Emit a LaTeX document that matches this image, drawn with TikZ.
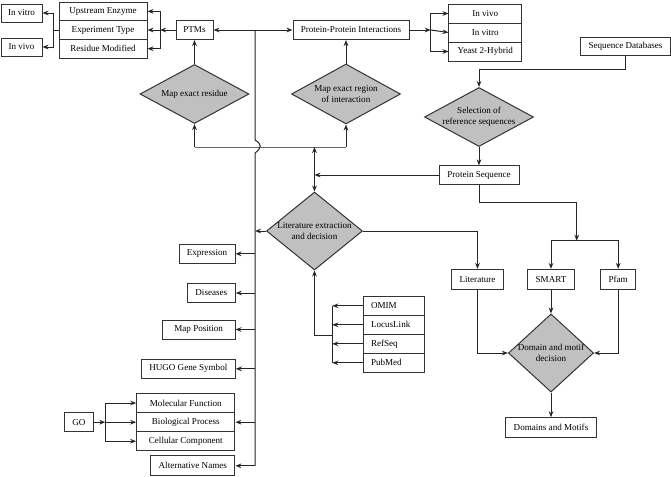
\documentclass[tikz,border=0pt]{standalone}
\usepackage{fontspec}
\setmainfont{Liberation Serif}
\usetikzlibrary{shapes.geometric,arrows.meta}

\tikzset{every picture/.style={line width=0.75pt}}
\tikzset{
  box/.style={draw=black!80, fill=white, inner sep=0pt, minimum height=14.25pt, font=\fontsize{6.8}{8}\selectfont},
  dbbox/.style={box, text width=34pt, inner xsep=5.75pt, align=left},
  decision/.style={diamond, draw=black!80, fill={rgb,255:red,192; green,192; blue,192}, inner sep=0pt, align=center, font=\fontsize{6.8}{8}\selectfont},
  arr/.style={draw=black!85, -{Stealth[length=4.5pt,width=3.5pt]}},
  arrs/.style={draw=black!85, {Stealth[length=4.5pt,width=3.5pt]}-{Stealth[length=4.5pt,width=3.5pt]}},
  wire/.style={draw=black!85}
}

\begin{document}
\begin{tikzpicture}[x=0.75pt,y=0.75pt,yscale=-1,xscale=1]
\useasboundingbox (0,0) rectangle (671,476);

%Shapes: PTM branch
\node[box, minimum width=30.75pt, minimum height=13.5pt] (invitroA) at (21.5,13) {In vitro};
\node[box, minimum width=30.75pt, minimum height=13.5pt] (invivoA) at (21.5,47) {In vivo};
\node[box, minimum width=66pt, minimum height=14pt] (upstream) at (103,11.33) {Upstream Enzyme};
\node[box, minimum width=66pt, minimum height=14pt] (exptype) at (103,30) {Experiment Type};
\node[box, minimum width=66pt, minimum height=14pt] (residue) at (103,48.67) {Residue Modified};
\node[box, minimum width=27.75pt] (ptms) at (194.5,30) {PTMs};
\node[decision, minimum width=81.75pt, minimum height=44.25pt, shape aspect=1.85] (mapres) at (194.5,94) {Map exact residue};

%Shapes: interaction branch
\node[box, minimum width=87pt] (ppi) at (351,30) {Protein-Protein Interactions};
\node[box, minimum width=54.5pt] (invivoB) at (485.3,13.5) {In vivo};
\node[box, minimum width=54.5pt] (invitroB) at (485.3,32.5) {In vitro};
\node[box, minimum width=54.5pt] (yeast) at (485.3,51.5) {Yeast 2-Hybrid};
\node[decision, minimum width=81.75pt, minimum height=45pt, shape aspect=1.85] (mapreg) at (346,94) {Map exact region\\of interaction};

%Shapes: sequence branch
\node[box, minimum width=67.5pt, minimum height=13.5pt] (seqdb) at (625.5,46) {Sequence Databases};
\node[decision, minimum width=81.75pt, minimum height=44.25pt, shape aspect=1.85] (selection) at (479,117) {Selection of\\reference sequences};
\node[box, minimum width=60pt, minimum height=13.75pt] (protseq) at (479,175) {Protein Sequence};
\node[box, minimum width=38.7pt, minimum height=14.75pt] (literature) at (477.5,279.2) {Literature};
\node[box, minimum width=35.25pt, minimum height=14.75pt] (smart) at (551,279.2) {SMART};
\node[box, minimum width=26.25pt, minimum height=14.75pt] (pfam) at (618.2,279.2) {Pfam};
\node[decision, minimum width=63.75pt, minimum height=58.5pt, shape aspect=1.09] (domdec) at (551,353) {Domain and motif\\decision};
\node[box, minimum width=67.7pt, minimum height=14.7pt] (dommot) at (551,427.5) {Domains and Motifs};

%Shapes: literature branch
\node[decision, minimum width=72pt, minimum height=58.5pt, shape aspect=1.23] (litdec) at (314.5,231) {Literature extraction\\and decision};
\node[dbbox] (omim) at (393.7,305.8) {OMIM};
\node[dbbox] (locus) at (393.7,324.8) {LocusLink};
\node[dbbox] (refseq) at (393.7,343.8) {RefSeq};
\node[dbbox] (pubmed) at (393.7,362.8) {PubMed};
\node[box, minimum width=42pt] (expression) at (207,253.8) {Expression};
\node[box, minimum width=36pt] (diseases) at (211.3,293) {Diseases};
\node[box, minimum width=54.5pt] (mappos) at (198.7,329.5) {Map Position};
\node[box, minimum width=70.5pt] (hugo) at (188.3,368.8) {HUGO Gene Symbol};
\node[box, minimum width=73.7pt] (molfun) at (185.8,403) {Molecular Function};
\node[box, minimum width=73.7pt] (bioproc) at (185.8,422.2) {Biological Process};
\node[box, minimum width=73.7pt] (cellcomp) at (185.8,441.2) {Cellular Component};
\node[box, minimum width=63.2pt, minimum height=14.75pt] (altnames) at (192.8,465.8) {Alternative Names};
\node[box, minimum width=21.75pt, minimum height=14.5pt] (go) at (78.8,422.2) {GO};

%Junction points
\coordinate (lbus) at (53,30);
\coordinate (pbus) at (160,30);
\coordinate (ibus) at (430.7,30);
\coordinate (bus) at (255,465.8);
\coordinate (jl) at (194.5,147);
\coordinate (jr) at (346,147);
\coordinate (sdturn) at (625.5,69);
\coordinate (psturn) at (576.7,202.7);
\coordinate (brk) at (576.7,240.7);
\coordinate (obus) at (332.3,335.7);
\coordinate (gbus) at (105.3,422.2);

%Connectors: PTMs
\draw[wire] (exptype.west) -- (lbus);
\draw[arr] (lbus) |- (invitroA.east);
\draw[arr] (lbus) |- (invivoA.east);
\draw[arr] (ptms.west) -- (pbus);
\draw[arr] (pbus) |- (upstream.east);
\draw[arr] (pbus) -- (exptype.east);
\draw[arr] (pbus) |- (residue.east);
\draw[arr] (mapres.north) -- (ptms.south);
\draw[arrs] (ptms.east) -- (ppi.west);

%Connectors: interactions
\draw[arr] (ppi.east) -- (ibus);
\draw[arr] (ibus) |- (invivoB.west);
\draw[arr] (ibus) -- (invitroB.west);
\draw[arr] (ibus) |- (yeast.west);
\draw[arr] (mapreg.north) -- (mapreg.north |- ppi.south);

%Straight Lines: shared bar under the two upper decisions
\draw[draw=black!60] (jl) -- (jr);
\draw[arr] (jl) -- (mapres.south);
\draw[arr] (jr) -- (mapreg.south);
\draw[arrs] (litdec.north |- jl) -- (litdec.north);
\draw[arr] (protseq.west) -- (litdec.north |- protseq);

%Straight Lines: bus with a jump over the bar
\draw[wire] (bus |- ptms) -- (255,140) .. controls (262,144) and (262,148) .. (255,153) -- (bus);
\draw[arr] (litdec.west) -- (bus |- litdec);
\draw[arr] (bus |- expression) -- (expression.east);
\draw[arr] (bus |- diseases) -- (diseases.east);
\draw[arr] (bus |- mappos) -- (mappos.east);
\draw[arr] (bus |- hugo) -- (hugo.east);
\draw[arr] (bus |- bioproc) -- (bioproc.east);
\draw[arr] (bus) -- (altnames.east);

%Connectors: GO
\draw[arr] (go.east) -- (gbus);
\draw[arr] (gbus) |- (molfun.west);
\draw[arr] (gbus) -- (bioproc.west);
\draw[arr] (gbus) |- (cellcomp.west);

%Connectors: databases
\draw[wire] (obus |- omim) -- (obus |- pubmed);
\draw[arr] (omim.west) -- (obus |- omim);
\draw[arr] (locus.west) -- (obus |- locus);
\draw[arr] (refseq.west) -- (obus |- refseq);
\draw[arr] (pubmed.west) -- (obus |- pubmed);
\draw[arr] (obus) -| (litdec.south);

%Connectors: sequence
\draw[arr] (seqdb.south) -- (sdturn) -| (selection.north);
\draw[arr] (selection.south) -- (protseq.north);
\draw[arr] (protseq.south) |- (psturn) -- (brk);
\draw[arr] (brk) -| (smart.north);
\draw[arr] (brk) -| (pfam.north);
\draw[arr] (litdec.east) -| (literature.north);
\draw[arr] (smart.south) -- (domdec.north);
\draw[arr] (literature.south) |- (domdec.west);
\draw[arr] (pfam.south) |- (domdec.east);
\draw[arr] (domdec.south) -- (dommot.north);

\end{tikzpicture}
\end{document}
